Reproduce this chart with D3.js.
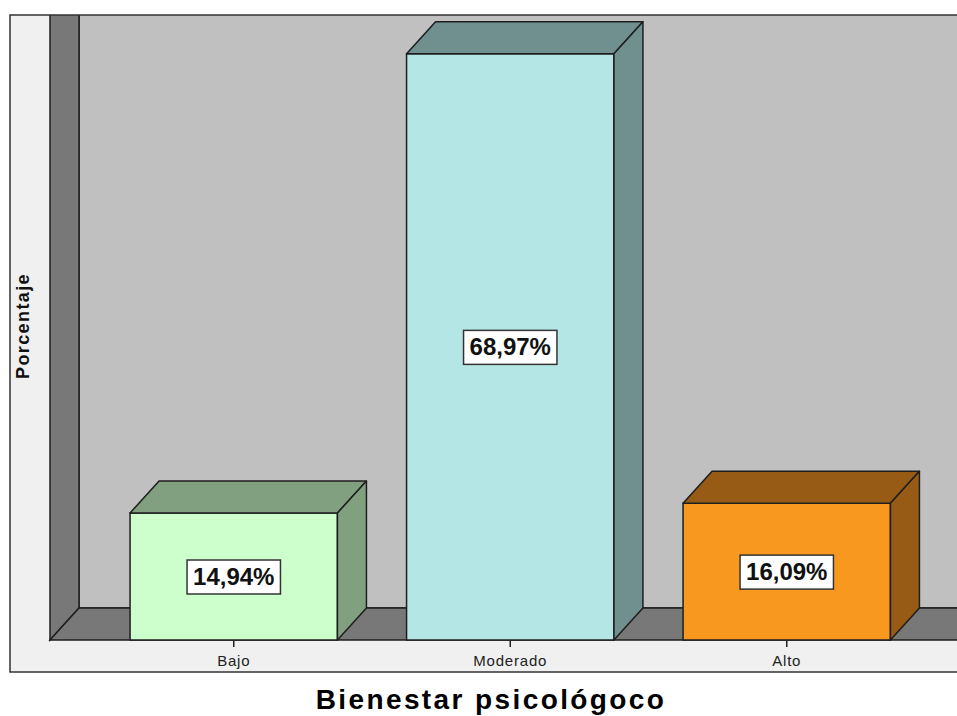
<!DOCTYPE html>
<html>
<head>
<meta charset="utf-8">
<script src="https://cdn.jsdelivr.net/npm/d3@7"></script>
<style>
  body { margin: 0; background: #fff; }
  svg { display: block; font-family: Arial, "Liberation Sans", Helvetica, sans-serif; }
</style>
</head>
<body>
<svg id="chart" width="957" height="716"></svg>
<script>
// data
var categories = ["Bajo", "Moderado", "Alto"];
var values = [14.94, 68.97, 16.09];
var yDomain = [0, 70];
var xTitle = "Bienestar psicológoco";
var yTitle = "Porcentaje";

var width = 957, height = 716;
var frame = {x: 10, y: 15, w: 980, h: 657};
var depthX = 29, depthY = 32;
var x0 = 50, base = 640;

var front = d3.scaleOrdinal(categories, ["#ccffcc", "#b4e6e6", "#f8981e"]);
var side = d3.scaleOrdinal(categories, ["#80a07f", "#708f8f", "#985b15"]);

var x = d3.scaleBand()
  .domain(categories)
  .range([95.5, 925])
  .paddingInner(0.25)
  .paddingOuter(0.125);

var y = d3.scaleLinear()
  .domain(yDomain)
  .range([base, 45]);

var fmt = function(v) { return d3.format(".2f")(v).replace(".", ",") + "%"; };

var svg = d3.select("#chart");

svg.append("defs").append("clipPath").attr("id", "clip")
  .append("rect")
  .attr("x", frame.x).attr("y", frame.y)
  .attr("width", frame.w).attr("height", frame.h);

// frame background
svg.append("rect")
  .attr("x", frame.x).attr("y", frame.y)
  .attr("width", frame.w).attr("height", frame.h)
  .attr("fill", "#f0f0f0");

var g = svg.append("g").attr("clip-path", "url(#clip)");
var edge = "#1e1e1e";
// walls run past the frame top and get clipped, like the original
var wallTop = frame.y - 60;

// back wall
g.append("rect")
  .attr("x", x0 + depthX).attr("y", wallTop)
  .attr("width", width - x0).attr("height", base - depthY - wallTop)
  .attr("fill", "#c0c0c0")
  .attr("stroke", edge).attr("stroke-width", 1.5);

// left wall
g.append("polygon")
  .attr("points", [[x0, base], [x0 + depthX, base - depthY], [x0 + depthX, wallTop], [x0, wallTop]].join(" "))
  .attr("fill", "#787878")
  .attr("stroke", edge).attr("stroke-width", 1.5);

// floor
g.append("polygon")
  .attr("points", [[x0, base], [x0 + depthX, base - depthY], [width + 40, base - depthY], [width + 40, base]].join(" "))
  .attr("fill", "#787878")
  .attr("stroke", edge).attr("stroke-width", 1.5);

// bars
var bars = g.selectAll("g.bar")
  .data(categories.map(function(c, i) { return {cat: c, value: values[i]}; }))
  .enter().append("g").attr("class", "bar");

bars.append("rect")
  .attr("x", function(d) { return x(d.cat); })
  .attr("y", function(d) { return y(d.value); })
  .attr("width", x.bandwidth())
  .attr("height", function(d) { return base - y(d.value); })
  .attr("fill", function(d) { return front(d.cat); })
  .attr("stroke", edge).attr("stroke-width", 1.5);

bars.append("polygon")
  .attr("points", function(d) {
    var a = x(d.cat), b = a + x.bandwidth(), t = y(d.value);
    return [[a, t], [a + depthX, t - depthY], [b + depthX, t - depthY], [b, t]].join(" ");
  })
  .attr("fill", function(d) { return side(d.cat); })
  .attr("stroke", edge).attr("stroke-width", 1.5).attr("stroke-linejoin", "round");

bars.append("polygon")
  .attr("points", function(d) {
    var b = x(d.cat) + x.bandwidth(), t = y(d.value);
    return [[b, t], [b + depthX, t - depthY], [b + depthX, base - depthY], [b, base]].join(" ");
  })
  .attr("fill", function(d) { return side(d.cat); })
  .attr("stroke", edge).attr("stroke-width", 1.5).attr("stroke-linejoin", "round");

// value labels
bars.each(function(d) {
  var cx = x(d.cat) + x.bandwidth() / 2;
  var cy = (y(d.value) + base) / 2;
  var lg = d3.select(this).append("g");
  var box = lg.append("rect");
  var t = lg.append("text")
    .attr("x", cx).attr("y", cy + 8.5)
    .attr("text-anchor", "middle")
    .attr("font-size", "24px").attr("font-weight", "bold")
    .attr("fill", "#111")
    .text(fmt(d.value));
  var bb = t.node().getBBox();
  box.attr("x", cx - bb.width / 2 - 6).attr("y", cy - 16.5)
    .attr("width", bb.width + 12).attr("height", 34)
    .attr("fill", "#fff").attr("stroke", "#333").attr("stroke-width", 1.5);
});

// x axis ticks and labels
var ax = svg.append("g");
ax.selectAll("line").data(categories).enter().append("line")
  .attr("x1", function(d) { return x(d) + x.bandwidth() / 2; })
  .attr("x2", function(d) { return x(d) + x.bandwidth() / 2; })
  .attr("y1", base).attr("y2", base + 7)
  .attr("stroke", "#222").attr("stroke-width", 1.5);
ax.selectAll("text").data(categories).enter().append("text")
  .attr("x", function(d) { return x(d) + x.bandwidth() / 2; })
  .attr("y", 666)
  .attr("text-anchor", "middle")
  .attr("font-size", "15px")
  .attr("letter-spacing", "0.8px")
  .attr("fill", "#222")
  .text(function(d) { return d; });

// frame border
svg.append("rect")
  .attr("x", frame.x).attr("y", frame.y)
  .attr("width", frame.w).attr("height", frame.h)
  .attr("fill", "none").attr("stroke", "#333").attr("stroke-width", 1.5);

// y title
svg.append("text")
  .attr("transform", "translate(29,326) rotate(-90)")
  .attr("text-anchor", "middle")
  .attr("font-size", "18px").attr("font-weight", "bold")
  .attr("letter-spacing", "1.4px")
  .attr("fill", "#111")
  .text(yTitle);

// x title
svg.append("text")
  .attr("x", 491).attr("y", 709)
  .attr("text-anchor", "middle")
  .attr("font-size", "28px").attr("font-weight", "bold")
  .attr("letter-spacing", "2.4px")
  .attr("fill", "#000")
  .text(xTitle);
</script>
</body>
</html>
